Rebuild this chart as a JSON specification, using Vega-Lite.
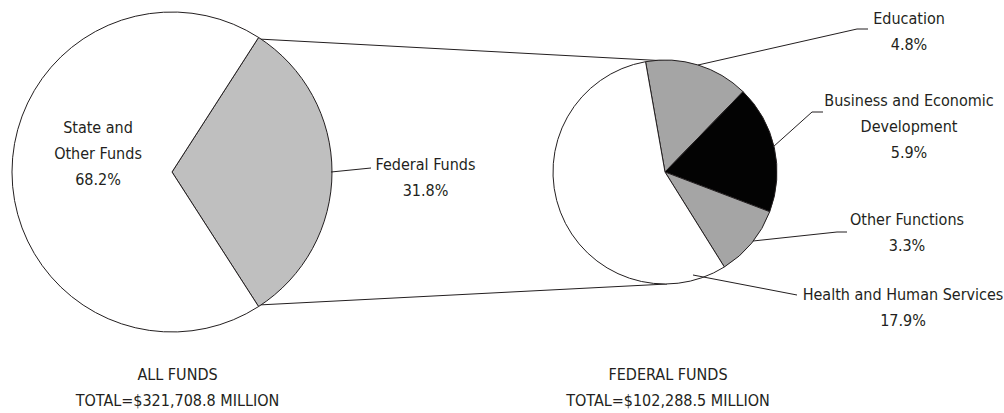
{
  "$schema": "https://vega.github.io/schema/vega-lite/v6.json",
  "width": 1004,
  "height": 413,
  "padding": 0,
  "autosize": {"type": "none"},
  "background": "#ffffff",
  "config": {
    "view": {"stroke": null},
    "text": {"font": "DejaVu Sans Condensed, Roboto, sans-serif", "fontSize": 16, "lineHeight": 26, "lineBreak": "\n", "align": "center", "baseline": "alphabetic", "color": "#231f20"},
    "rule": {"color": "#231f20", "strokeWidth": 1}
  },
  "datasets": {
    "slices": [
      {"chart": "All Funds", "category": "Federal Funds", "label": "Federal Funds\n31.8%", "share": 31.8, "order": 1},
      {"chart": "All Funds", "category": "State and Other Funds", "label": "State and\nOther Funds\n68.2%", "share": 68.2, "order": 2},
      {"chart": "Federal Funds", "category": "Education", "label": "Education\n4.8%", "share": 4.8, "order": 1},
      {"chart": "Federal Funds", "category": "Business and Economic Development", "label": "Business and Economic\nDevelopment\n5.9%", "share": 5.9, "order": 2},
      {"chart": "Federal Funds", "category": "Other Functions", "label": "Other Functions\n3.3%", "share": 3.3, "order": 3},
      {"chart": "Federal Funds", "category": "Health and Human Services", "label": "Health and Human Services\n17.9%", "share": 17.9, "order": 4}
    ],
    "totals": [
      {"chart": "All Funds", "caption": "ALL FUNDS\nTOTAL=$321,708.8 MILLION", "total": 321708.8},
      {"chart": "Federal Funds", "caption": "FEDERAL FUNDS\nTOTAL=$102,288.5 MILLION", "total": 102288.5}
    ]
  },
  "data": {"name": "slices"},
  "resolve": {"scale": {"theta": "independent"}},
  "layer": [
    {
      "transform": [{"filter": "datum.category == 'Federal Funds'"}],
      "mark": {"type": "rule"},
      "encoding": {
        "x": {"datum": 258, "type": "quantitative", "scale": {"domain": [0, 1004], "nice": false, "zero": false}, "axis": null},
        "y": {"datum": 39, "type": "quantitative", "scale": {"domain": [0, 413], "reverse": true, "nice": false, "zero": false}, "axis": null},
        "x2": {"datum": 668},
        "y2": {"datum": 61}
      }
    },
    {
      "transform": [{"filter": "datum.category == 'Federal Funds'"}],
      "mark": {"type": "rule"},
      "encoding": {
        "x": {"datum": 258, "type": "quantitative", "scale": {"domain": [0, 1004], "nice": false, "zero": false}, "axis": null},
        "y": {"datum": 305, "type": "quantitative", "scale": {"domain": [0, 413], "reverse": true, "nice": false, "zero": false}, "axis": null},
        "x2": {"datum": 667},
        "y2": {"datum": 284}
      }
    },
    {
      "transform": [{"filter": "datum.chart == 'All Funds'"}],
      "mark": {"type": "arc", "outerRadius": 160, "stroke": "#231f20", "strokeWidth": 1},
      "encoding": {
        "x": {"datum": 172, "type": "quantitative", "scale": {"domain": [0, 1004], "nice": false, "zero": false}, "axis": null},
        "y": {"datum": 172, "type": "quantitative", "scale": {"domain": [0, 413], "reverse": true, "nice": false, "zero": false}, "axis": null},
        "theta": {"field": "share", "type": "quantitative", "stack": true, "scale": {"range": [0.5718, 6.855]}},
        "order": {"field": "order", "type": "quantitative"},
        "color": {"field": "category", "type": "nominal", "legend": null,
          "scale": {"domain": ["Federal Funds", "State and Other Funds", "Education", "Business and Economic Development", "Other Functions", "Health and Human Services"],
                    "range": ["#bfbfbf", "#ffffff", "#a5a5a5", "#030303", "#a5a5a5", "#ffffff"]}}
      }
    },
    {
      "transform": [{"filter": "datum.chart == 'Federal Funds'"}],
      "mark": {"type": "arc", "outerRadius": 112, "stroke": "#231f20", "strokeWidth": 1},
      "encoding": {
        "x": {"datum": 665, "type": "quantitative", "scale": {"domain": [0, 1004], "nice": false, "zero": false}, "axis": null},
        "y": {"datum": 172, "type": "quantitative", "scale": {"domain": [0, 413], "reverse": true, "nice": false, "zero": false}, "axis": null},
        "theta": {"field": "share", "type": "quantitative", "stack": true, "scale": {"range": [-0.1745, 6.1087]}},
        "order": {"field": "order", "type": "quantitative"},
        "color": {"field": "category", "type": "nominal", "legend": null}
      }
    },
    {
      "transform": [{"filter": "datum.category == 'Federal Funds'"}],
      "mark": {"type": "rule"},
      "encoding": {
        "x": {"datum": 331, "type": "quantitative", "scale": {"domain": [0, 1004], "nice": false, "zero": false}, "axis": null},
        "y": {"datum": 172, "type": "quantitative", "scale": {"domain": [0, 413], "reverse": true, "nice": false, "zero": false}, "axis": null},
        "x2": {"datum": 371},
        "y2": {"datum": 168}
      }
    },
    {
      "transform": [{"filter": "datum.category == 'Education'"}],
      "mark": {"type": "rule"},
      "encoding": {
        "x": {"datum": 698, "type": "quantitative", "scale": {"domain": [0, 1004], "nice": false, "zero": false}, "axis": null},
        "y": {"datum": 65, "type": "quantitative", "scale": {"domain": [0, 413], "reverse": true, "nice": false, "zero": false}, "axis": null},
        "x2": {"datum": 857},
        "y2": {"datum": 29}
      }
    },
    {
      "transform": [{"filter": "datum.category == 'Education'"}],
      "mark": {"type": "rule"},
      "encoding": {
        "x": {"datum": 857, "type": "quantitative", "scale": {"domain": [0, 1004], "nice": false, "zero": false}, "axis": null},
        "y": {"datum": 29, "type": "quantitative", "scale": {"domain": [0, 413], "reverse": true, "nice": false, "zero": false}, "axis": null},
        "x2": {"datum": 868},
        "y2": {"datum": 29}
      }
    },
    {
      "transform": [{"filter": "datum.category == 'Business and Economic Development'"}],
      "mark": {"type": "rule"},
      "encoding": {
        "x": {"datum": 773, "type": "quantitative", "scale": {"domain": [0, 1004], "nice": false, "zero": false}, "axis": null},
        "y": {"datum": 147, "type": "quantitative", "scale": {"domain": [0, 413], "reverse": true, "nice": false, "zero": false}, "axis": null},
        "x2": {"datum": 812},
        "y2": {"datum": 112}
      }
    },
    {
      "transform": [{"filter": "datum.category == 'Business and Economic Development'"}],
      "mark": {"type": "rule"},
      "encoding": {
        "x": {"datum": 812, "type": "quantitative", "scale": {"domain": [0, 1004], "nice": false, "zero": false}, "axis": null},
        "y": {"datum": 112, "type": "quantitative", "scale": {"domain": [0, 413], "reverse": true, "nice": false, "zero": false}, "axis": null},
        "x2": {"datum": 823},
        "y2": {"datum": 112}
      }
    },
    {
      "transform": [{"filter": "datum.category == 'Other Functions'"}],
      "mark": {"type": "rule"},
      "encoding": {
        "x": {"datum": 753, "type": "quantitative", "scale": {"domain": [0, 1004], "nice": false, "zero": false}, "axis": null},
        "y": {"datum": 241, "type": "quantitative", "scale": {"domain": [0, 413], "reverse": true, "nice": false, "zero": false}, "axis": null},
        "x2": {"datum": 837},
        "y2": {"datum": 232}
      }
    },
    {
      "transform": [{"filter": "datum.category == 'Other Functions'"}],
      "mark": {"type": "rule"},
      "encoding": {
        "x": {"datum": 837, "type": "quantitative", "scale": {"domain": [0, 1004], "nice": false, "zero": false}, "axis": null},
        "y": {"datum": 232, "type": "quantitative", "scale": {"domain": [0, 413], "reverse": true, "nice": false, "zero": false}, "axis": null},
        "x2": {"datum": 847},
        "y2": {"datum": 232}
      }
    },
    {
      "transform": [{"filter": "datum.category == 'Health and Human Services'"}],
      "mark": {"type": "rule"},
      "encoding": {
        "x": {"datum": 693, "type": "quantitative", "scale": {"domain": [0, 1004], "nice": false, "zero": false}, "axis": null},
        "y": {"datum": 275, "type": "quantitative", "scale": {"domain": [0, 413], "reverse": true, "nice": false, "zero": false}, "axis": null},
        "x2": {"datum": 797},
        "y2": {"datum": 295}
      }
    },
    {
      "transform": [{"filter": "datum.category == 'State and Other Funds'"}],
      "mark": {"type": "text"},
      "encoding": {
        "x": {"datum": 98, "type": "quantitative", "scale": {"domain": [0, 1004], "nice": false, "zero": false}, "axis": null},
        "y": {"datum": 132.5, "type": "quantitative", "scale": {"domain": [0, 413], "reverse": true, "nice": false, "zero": false}, "axis": null},
        "text": {"field": "label"}
      }
    },
    {
      "transform": [{"filter": "datum.category == 'Federal Funds'"}],
      "mark": {"type": "text"},
      "encoding": {
        "x": {"datum": 425.5, "type": "quantitative", "scale": {"domain": [0, 1004], "nice": false, "zero": false}, "axis": null},
        "y": {"datum": 169.5, "type": "quantitative", "scale": {"domain": [0, 413], "reverse": true, "nice": false, "zero": false}, "axis": null},
        "text": {"field": "label"}
      }
    },
    {
      "transform": [{"filter": "datum.category == 'Education'"}],
      "mark": {"type": "text"},
      "encoding": {
        "x": {"datum": 909, "type": "quantitative", "scale": {"domain": [0, 1004], "nice": false, "zero": false}, "axis": null},
        "y": {"datum": 24, "type": "quantitative", "scale": {"domain": [0, 413], "reverse": true, "nice": false, "zero": false}, "axis": null},
        "text": {"field": "label"}
      }
    },
    {
      "transform": [{"filter": "datum.category == 'Business and Economic Development'"}],
      "mark": {"type": "text"},
      "encoding": {
        "x": {"datum": 909, "type": "quantitative", "scale": {"domain": [0, 1004], "nice": false, "zero": false}, "axis": null},
        "y": {"datum": 106, "type": "quantitative", "scale": {"domain": [0, 413], "reverse": true, "nice": false, "zero": false}, "axis": null},
        "text": {"field": "label"}
      }
    },
    {
      "transform": [{"filter": "datum.category == 'Other Functions'"}],
      "mark": {"type": "text"},
      "encoding": {
        "x": {"datum": 907, "type": "quantitative", "scale": {"domain": [0, 1004], "nice": false, "zero": false}, "axis": null},
        "y": {"datum": 225, "type": "quantitative", "scale": {"domain": [0, 413], "reverse": true, "nice": false, "zero": false}, "axis": null},
        "text": {"field": "label"}
      }
    },
    {
      "transform": [{"filter": "datum.category == 'Health and Human Services'"}],
      "mark": {"type": "text"},
      "encoding": {
        "x": {"datum": 903, "type": "quantitative", "scale": {"domain": [0, 1004], "nice": false, "zero": false}, "axis": null},
        "y": {"datum": 299.5, "type": "quantitative", "scale": {"domain": [0, 413], "reverse": true, "nice": false, "zero": false}, "axis": null},
        "text": {"field": "label"}
      }
    },
    {
      "data": {"name": "totals"},
      "transform": [{"filter": "datum.chart == 'All Funds'"}],
      "mark": {"type": "text"},
      "encoding": {
        "x": {"datum": 177.5, "type": "quantitative", "scale": {"domain": [0, 1004], "nice": false, "zero": false}, "axis": null},
        "y": {"datum": 379.5, "type": "quantitative", "scale": {"domain": [0, 413], "reverse": true, "nice": false, "zero": false}, "axis": null},
        "text": {"field": "caption"}
      }
    },
    {
      "data": {"name": "totals"},
      "transform": [{"filter": "datum.chart == 'Federal Funds'"}],
      "mark": {"type": "text"},
      "encoding": {
        "x": {"datum": 668, "type": "quantitative", "scale": {"domain": [0, 1004], "nice": false, "zero": false}, "axis": null},
        "y": {"datum": 379.5, "type": "quantitative", "scale": {"domain": [0, 413], "reverse": true, "nice": false, "zero": false}, "axis": null},
        "text": {"field": "caption"}
      }
    }
  ]
}
